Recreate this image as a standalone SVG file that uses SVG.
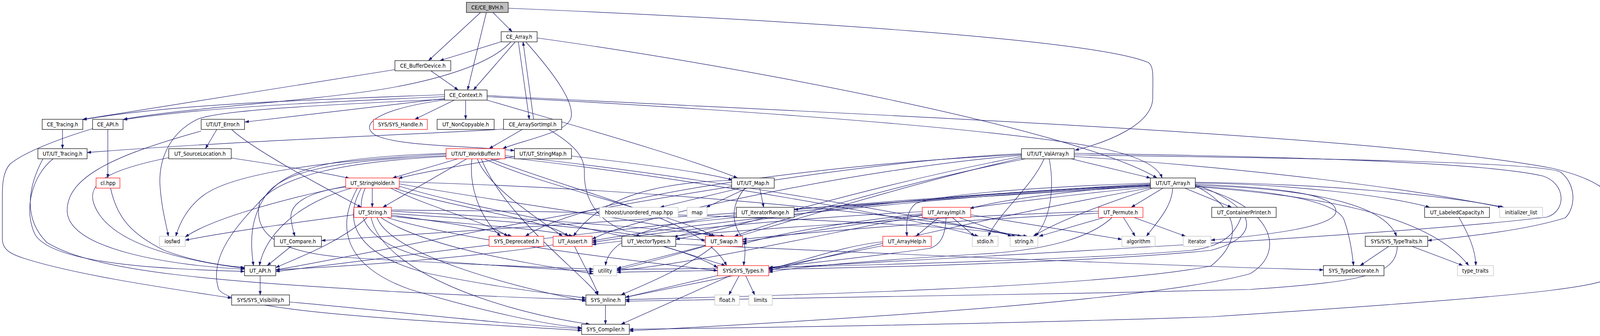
<svg xmlns="http://www.w3.org/2000/svg" width="4141" height="859" viewBox="0 0 4141 859">
<style>
.nd rect{fill:#fff;stroke:#000;stroke-width:1.2}
.nd.red rect{stroke:#ff0000}
.nd.ext rect{stroke:#bfbfbf}
.nd.root rect{fill:#bfbfbf}
.nd text{font-family:"DejaVu Sans Condensed","DejaVu Sans","Liberation Sans",sans-serif;font-stretch:condensed;font-size:14px;text-anchor:middle;fill:#000}
#edges path{fill:none;stroke:#191970;stroke-width:1.2;marker-end:url(#arr)}
</style>
<defs>
<marker id="arr" markerUnits="userSpaceOnUse" markerWidth="10" markerHeight="8" refX="10" refY="3.5" orient="auto">
<path d="M0,0 L10,3.5 L0,7 z" fill="#191970" stroke="#191970" stroke-width="0.5"/>
</marker>
</defs>
<rect width="4141" height="859" fill="#fff"/>
<g id="edges">
<path d="M1230,32 L1097,155"/>
<path d="M1245,32 L1197,230"/>
<path d="M1262,32 L1311,81"/>
<path d="M1301,21 C2000,50 2800,100 2940,160 C2955,170 2951,200 2951,250 C2951,320 2830,365 2752,384"/>
<path d="M1285,106 L1126,155"/>
<path d="M1308,107 C1250,170 1100,208 980,228 C760,262 480,275 316,305"/>
<path d="M1319,107 L1212,230"/>
<path d="M1327,107 L1355,305"/>
<path d="M1366,305 L1339,107"/>
<path d="M1346,107 C1420,190 1470,260 1462,300 C1455,340 1330,360 1287,380"/>
<path d="M1375,97 C1900,170 2750,330 2962,455"/>
<path d="M1011,178 L212,305"/>
<path d="M1103,181 L1173,230"/>
<path d="M1138,242 C800,255 450,265 212,306"/>
<path d="M1138,247 C800,262 520,275 316,306"/>
<path d="M1138,252 L627,312"/>
<path d="M1138,254 C820,268 560,282 505,305 C425,345 405,420 410,480 C415,540 425,570 431,604"/>
<path d="M1163,256 L1062,305"/>
<path d="M1192,256 L1192,305"/>
<path d="M1140,255 C960,280 920,320 960,345 C1020,375 1200,372 1317,385"/>
<path d="M1247,256 C1500,330 1750,400 1888,455"/>
<path d="M1247,247 C1700,270 2500,320 2810,377 C2900,395 2962,420 2975,455"/>
<path d="M1247,244 C2000,285 3500,340 3973,430 C4080,455 4136,490 4136,540 L4136,690 C4136,730 4050,748 3100,810 C2500,830 1900,838 1611,842"/>
<path d="M160,331 L160,380"/>
<path d="M276,331 L276,455"/>
<path d="M237,329 C150,355 60,390 25,420 C8,440 6,470 6,500 L6,610 C6,640 30,650 60,660 C200,705 450,740 593,762"/>
<path d="M555,331 L526,380"/>
<path d="M593,331 C650,385 850,490 925,530"/>
<path d="M515,335 C300,395 170,450 172,540 C175,640 450,680 626,688"/>
<path d="M136,406 C80,450 60,540 90,600 C140,680 450,688 626,694"/>
<path d="M432,403 C300,430 220,460 240,520 C270,610 420,660 626,686"/>
<path d="M592,404 C700,420 820,440 895,456"/>
<path d="M1289,330 C1150,340 600,360 223,390"/>
<path d="M1337,331 L1252,380"/>
<path d="M1405,331 C1470,370 1497,400 1496,440 C1495,500 1520,560 1600,590 C1700,605 1760,612 1806,614"/>
<path d="M283,481 C300,560 340,600 420,640 C500,670 580,680 626,684"/>
<path d="M1142,392 C900,400 760,420 700,480 C620,560 530,650 560,740 C600,800 1100,820 1489,845"/>
<path d="M110,406 C70,480 60,560 120,620 C250,700 600,720 1000,745 C1300,760 1450,765 1500,766"/>
<path d="M1172,406 L1005,455"/>
<path d="M1195,406 L980,530"/>
<path d="M1208,406 C1200,480 1230,560 1282,604"/>
<path d="M1222,406 C1250,480 1380,560 1440,604"/>
<path d="M1142,398 C850,410 720,440 680,500 C640,560 640,620 649,679"/>
<path d="M1142,394 C850,410 600,440 520,500 C480,530 460,570 450,604"/>
<path d="M1240,406 C1400,480 1700,540 1830,604"/>
<path d="M1255,406 C1500,500 1800,560 1860,679"/>
<path d="M1142,400 C880,413 720,450 665,515 C650,580 680,640 870,657 C1100,672 1350,682 1519,688"/>
<path d="M1293,398 C1800,450 2400,560 2600,604"/>
<path d="M1293,402 C1800,460 2350,560 2505,604"/>
<path d="M1232,406 C1290,550 1480,690 1531,754"/>
<path d="M1317,400 C1200,420 1080,440 1020,456"/>
<path d="M1463,399 C1650,420 1800,440 1875,460"/>
<path d="M953,481 L953,530"/>
<path d="M900,481 C760,520 680,600 664,679"/>
<path d="M885,476 C720,510 540,560 474,606"/>
<path d="M1000,481 C1100,530 1250,570 1300,604"/>
<path d="M1010,481 C1150,530 1400,560 1455,604"/>
<path d="M1022,470 C1300,520 1700,570 1825,604"/>
<path d="M1022,476 C1300,560 1700,600 1837,684"/>
<path d="M925,481 C880,560 900,650 1100,700 C1300,740 1450,755 1500,762"/>
<path d="M915,481 C860,580 880,680 1050,740 C1250,800 1400,830 1489,838"/>
<path d="M935,481 C900,560 950,640 1150,670 C1350,685 1450,690 1519,694"/>
<path d="M1022,465 C1600,480 2300,540 2615,604"/>
<path d="M885,478 C790,490 740,520 745,560 C748,580 752,595 755,604"/>
<path d="M940,556 C870,620 760,660 706,684"/>
<path d="M906,549 C750,570 600,590 474,614"/>
<path d="M1002,550 C1150,570 1250,585 1310,604"/>
<path d="M1002,553 C1200,575 1400,585 1466,604"/>
<path d="M1002,546 C1300,565 1550,585 1640,604"/>
<path d="M1002,540 C1400,560 1750,590 1855,604"/>
<path d="M990,556 C1200,620 1650,670 1837,692"/>
<path d="M965,556 C1000,650 1300,730 1500,770"/>
<path d="M950,556 C980,700 1300,800 1510,829"/>
<path d="M975,556 C1100,640 1400,680 1519,700"/>
<path d="M1002,537 C1700,540 2400,570 2630,604"/>
<path d="M1895,481 L1690,530"/>
<path d="M1912,481 L1808,530"/>
<path d="M1945,481 L1955,530"/>
<path d="M1907,481 C1875,520 1870,560 1895,600 C1915,630 1905,660 1904,679"/>
<path d="M1873,461 C1660,467 1530,513 1468,604"/>
<path d="M1885,549 C1700,570 1560,600 1550,679"/>
<path d="M2945,470 C2600,490 2200,520 2033,536"/>
<path d="M2742,406 L2945,455"/>
<path d="M2673,406 C2640,480 2560,540 2530,604"/>
<path d="M2686,406 C2700,480 2690,560 2650,604"/>
<path d="M2615,393 C2000,420 1000,640 706,690"/>
<path d="M2615,397 C2200,430 1600,560 1516,612"/>
<path d="M2625,406 C2300,470 2000,560 1880,604"/>
<path d="M2750,392 C3300,400 3800,415 3950,450 C4010,470 4010,540 3960,555 C3600,600 2600,650 1968,686"/>
<path d="M2615,395 C2100,420 1500,500 1345,604"/>
<path d="M2945,476 C2200,520 1400,580 823,615"/>
<path d="M2750,396 C3400,405 3950,415 3995,440 C4035,470 4035,530 4007,557 C3900,590 3750,605 3655,615"/>
<path d="M2750,400 C3200,430 3600,480 3845,530"/>
<path d="M2615,400 C2200,480 1900,580 1730,612"/>
<path d="M2615,404 C2200,500 1800,640 1579,690"/>
<path d="M2977,481 L2896,530"/>
<path d="M3002,481 C3000,530 2960,570 2935,604"/>
<path d="M3033,481 L3153,530"/>
<path d="M2950,481 C2800,530 2700,570 2645,604"/>
<path d="M2945,473 C2700,490 2550,515 2483,533"/>
<path d="M2945,468 C2600,480 2400,500 2345,520 C2318,540 2320,580 2322,604"/>
<path d="M2945,475 C2400,500 1700,580 1516,616"/>
<path d="M2945,478 C2500,520 2100,590 1901,618"/>
<path d="M2945,472 C2000,520 1000,660 706,694"/>
<path d="M2945,480 C2500,560 2100,660 1968,692"/>
<path d="M3060,475 C3150,520 3200,600 3100,680 C2800,740 1800,760 1601,766"/>
<path d="M3060,478 C3250,520 3300,640 3200,700 C2900,780 1900,830 1611,846"/>
<path d="M3060,472 C3200,520 3250,600 3100,640 C2700,680 1900,690 1579,696"/>
<path d="M3060,471 C3300,480 3420,500 3420,540 C3420,580 3250,600 3100,614"/>
<path d="M3060,466 C3400,470 3700,500 3850,530"/>
<path d="M3060,468 C3300,470 3550,500 3660,530"/>
<path d="M3060,474 C3300,480 3540,510 3575,604"/>
<path d="M3060,476 C3300,490 3420,520 3440,560 C3455,600 3462,650 3465,679"/>
<path d="M3060,477 C3350,500 3650,540 3760,679"/>
<path d="M2945,474 C2300,500 1900,560 1725,606"/>
<path d="M2403,556 L2345,604"/>
<path d="M2438,556 L2495,604"/>
<path d="M2455,556 L2590,604"/>
<path d="M2485,549 L2872,612"/>
<path d="M2361,541 C2000,560 1700,590 1516,620"/>
<path d="M2361,546 C2150,570 2000,595 1901,624"/>
<path d="M2422,556 C2420,600 2410,625 2380,635 C2200,660 2050,675 1968,684"/>
<path d="M2361,550 C2100,600 1800,670 1579,692"/>
<path d="M2876,556 L2906,604"/>
<path d="M2903,556 L3035,604"/>
<path d="M2826,556 L2660,604"/>
<path d="M2847,556 C2800,600 2700,640 2500,650 C2250,665 2050,680 1968,696"/>
<path d="M2812,540 C2400,555 1800,590 1516,625"/>
<path d="M2812,545 C2500,560 2100,590 1901,612"/>
<path d="M2260,618 C2150,630 2050,670 1968,688"/>
<path d="M2260,628 C2000,680 1700,740 1601,760"/>
<path d="M3177,556 C3160,600 3130,630 3050,640 C2700,670 1800,690 1579,688"/>
<path d="M3735,556 C3760,600 3778,640 3778,679"/>
<path d="M3555,630 L3482,679"/>
<path d="M3615,630 L3745,679"/>
<path d="M3577,630 C3575,700 3500,720 3200,740 C2600,755 1900,765 1601,770"/>
<path d="M1700,630 L1857,679"/>
<path d="M1730,624 C2300,650 3000,680 3388,690"/>
<path d="M1806,628 L1580,686"/>
<path d="M1825,630 C1750,690 1620,740 1590,754"/>
<path d="M1471,630 C1500,690 1525,730 1531,754"/>
<path d="M1416,626 C1200,660 900,680 706,690"/>
<path d="M1839,704 L1601,760"/>
<path d="M1869,705 L1590,829"/>
<path d="M1892,705 L1866,754"/>
<path d="M1909,705 L1932,754"/>
<path d="M1550,780 L1550,829"/>
<path d="M741,772 C1000,795 1300,830 1489,840"/>
<path d="M666,705 L666,754"/>
<path d="M745,630 L684,679"/>
</g>
<g id="n-bvh" class="nd root"><rect x="1194" y="6" width="107" height="26"/><text x="1247.5" y="24">CE/CE_BVH.h</text></g>
<g id="n-cearray" class="nd"><rect x="1283" y="81" width="92" height="26"/><text x="1329" y="99">CE_Array.h</text></g>
<g id="n-bufdev" class="nd"><rect x="1011" y="155" width="143" height="26"/><text x="1082.5" y="173">CE_BufferDevice.h</text></g>
<g id="n-ctx" class="nd"><rect x="1138" y="230" width="109" height="26"/><text x="1192.5" y="248">CE_Context.h</text></g>
<g id="n-cetrac" class="nd"><rect x="108" y="305" width="104" height="26"/><text x="160" y="323">CE_Tracing.h</text></g>
<g id="n-ceapi" class="nd"><rect x="237" y="305" width="78" height="26"/><text x="276" y="323">CE_API.h</text></g>
<g id="n-uterr" class="nd"><rect x="515" y="305" width="111" height="26"/><text x="570.5" y="323">UT/UT_Error.h</text></g>
<g id="n-syshandle" class="nd red"><rect x="956" y="305" width="138" height="26"/><text x="1025" y="323">SYS/SYS_Handle.h</text></g>
<g id="n-noncopy" class="nd"><rect x="1119" y="305" width="146" height="26"/><text x="1192" y="323">UT_NonCopyable.h</text></g>
<g id="n-sortimpl" class="nd"><rect x="1289" y="305" width="149" height="26"/><text x="1363.5" y="323">CE_ArraySortImpl.h</text></g>
<g id="n-uttrac" class="nd"><rect x="97" y="380" width="126" height="26"/><text x="160" y="398">UT/UT_Tracing.h</text></g>
<g id="n-srcloc" class="nd"><rect x="432" y="380" width="160" height="26"/><text x="512" y="398">UT_SourceLocation.h</text></g>
<g id="n-workbuf" class="nd red"><rect x="1142" y="380" width="151" height="26"/><text x="1217.5" y="398">UT/UT_WorkBuffer.h</text></g>
<g id="n-strmap" class="nd"><rect x="1317" y="380" width="146" height="26"/><text x="1390" y="398">UT/UT_StringMap.h</text></g>
<g id="n-valarr" class="nd"><rect x="2615" y="380" width="135" height="26"/><text x="2682.5" y="398">UT/UT_ValArray.h</text></g>
<g id="n-clhpp" class="nd red"><rect x="246" y="455" width="61" height="26"/><text x="276.5" y="473">cl.hpp</text></g>
<g id="n-strhold" class="nd red"><rect x="885" y="455" width="137" height="26"/><text x="953.5" y="473">UT_StringHolder.h</text></g>
<g id="n-utmap" class="nd"><rect x="1873" y="455" width="109" height="26"/><text x="1927.5" y="473">UT/UT_Map.h</text></g>
<g id="n-utarray" class="nd"><rect x="2945" y="455" width="115" height="26"/><text x="3002.5" y="473">UT/UT_Array.h</text></g>
<g id="n-utstring" class="nd red"><rect x="906" y="530" width="96" height="26"/><text x="954" y="548">UT_String.h</text></g>
<g id="n-hboost" class="nd ext"><rect x="1535" y="530" width="201" height="26"/><text x="1635.5" y="548">hboost/unordered_map.hpp</text></g>
<g id="n-map" class="nd ext"><rect x="1759" y="530" width="51" height="26"/><text x="1784.5" y="548">map</text></g>
<g id="n-iterrange" class="nd"><rect x="1885" y="530" width="148" height="26"/><text x="1959" y="548">UT_IteratorRange.h</text></g>
<g id="n-arrimpl" class="nd red"><rect x="2361" y="530" width="124" height="26"/><text x="2423" y="548">UT_ArrayImpl.h</text></g>
<g id="n-permute" class="nd red"><rect x="2812" y="530" width="114" height="26"/><text x="2869" y="548">UT_Permute.h</text></g>
<g id="n-contprint" class="nd"><rect x="3102" y="530" width="165" height="26"/><text x="3184.5" y="548">UT_ContainerPrinter.h</text></g>
<g id="n-labcap" class="nd"><rect x="3647" y="530" width="166" height="26"/><text x="3730" y="548">UT_LabeledCapacity.h</text></g>
<g id="n-initlist" class="nd ext"><rect x="3839" y="530" width="110" height="26"/><text x="3894" y="548">initializer_list</text></g>
<g id="n-iosfwd" class="nd ext"><rect x="408" y="604" width="66" height="26"/><text x="441" y="622">iosfwd</text></g>
<g id="n-compare" class="nd"><rect x="702" y="604" width="121" height="26"/><text x="762.5" y="622">UT_Compare.h</text></g>
<g id="n-sysdep" class="nd red"><rect x="1252" y="604" width="140" height="26"/><text x="1322" y="622">SYS_Deprecated.h</text></g>
<g id="n-assert" class="nd red"><rect x="1416" y="604" width="100" height="26"/><text x="1466" y="622">UT_Assert.h</text></g>
<g id="n-vectypes" class="nd"><rect x="1592" y="604" width="138" height="26"/><text x="1661" y="622">UT_VectorTypes.h</text></g>
<g id="n-swap" class="nd red"><rect x="1806" y="604" width="95" height="26"/><text x="1853.5" y="622">UT_Swap.h</text></g>
<g id="n-arrhelp" class="nd red"><rect x="2260" y="604" width="124" height="26"/><text x="2322" y="622">UT_ArrayHelp.h</text></g>
<g id="n-stdio" class="nd ext"><rect x="2489" y="604" width="66" height="26"/><text x="2522" y="622">stdio.h</text></g>
<g id="n-stringh" class="nd ext"><rect x="2586" y="604" width="71" height="26"/><text x="2621.5" y="622">string.h</text></g>
<g id="n-algorithm" class="nd ext"><rect x="2872" y="604" width="85" height="26"/><text x="2914.5" y="622">algorithm</text></g>
<g id="n-iterator" class="nd ext"><rect x="3029" y="604" width="71" height="26"/><text x="3064.5" y="622">iterator</text></g>
<g id="n-typetraits" class="nd"><rect x="3495" y="604" width="160" height="26"/><text x="3575" y="622">SYS/SYS_TypeTraits.h</text></g>
<g id="n-utapi" class="nd"><rect x="626" y="679" width="80" height="26"/><text x="666" y="697">UT_API.h</text></g>
<g id="n-utility" class="nd ext"><rect x="1519" y="679" width="60" height="26"/><text x="1549" y="697">utility</text></g>
<g id="n-systypes" class="nd red"><rect x="1837" y="679" width="131" height="26"/><text x="1902.5" y="697">SYS/SYS_Types.h</text></g>
<g id="n-typedec" class="nd"><rect x="3388" y="679" width="155" height="26"/><text x="3465.5" y="697">SYS_TypeDecorate.h</text></g>
<g id="n-type_traits" class="nd ext"><rect x="3731" y="679" width="92" height="26"/><text x="3777" y="697">type_traits</text></g>
<g id="n-visib" class="nd"><rect x="593" y="754" width="148" height="26"/><text x="667" y="772">SYS/SYS_Visibility.h</text></g>
<g id="n-inline" class="nd"><rect x="1500" y="754" width="101" height="26"/><text x="1550.5" y="772">SYS_Inline.h</text></g>
<g id="n-float" class="nd ext"><rect x="1830" y="754" width="63" height="26"/><text x="1861.5" y="772">float.h</text></g>
<g id="n-limits" class="nd ext"><rect x="1917" y="754" width="60" height="26"/><text x="1947" y="772">limits</text></g>
<g id="n-compiler" class="nd"><rect x="1489" y="829" width="122" height="26"/><text x="1550" y="847">SYS_Compiler.h</text></g>
</svg>
